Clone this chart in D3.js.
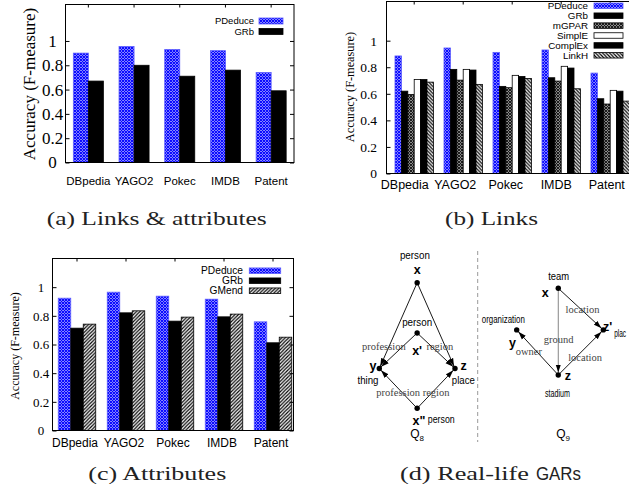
<!DOCTYPE html>
<html><head><meta charset="utf-8">
<script src="https://cdn.jsdelivr.net/npm/d3@7"></script>
<style>body{margin:0;background:#fff;overflow:hidden} svg{display:block}</style>
</head><body>
<svg id="c" width="629" height="493"></svg>
<script>
// ---------------- data ----------------
const datasets = ["DBpedia", "YAGO2", "Pokec", "IMDB", "Patent"];
const yTickValues = [0, 0.2, 0.4, 0.6, 0.8, 1];

// (a) Links & attributes
const seriesA = ["PDeduce", "GRb"];
const pdeduceA = [0.90, 0.955, 0.93, 0.92, 0.74];
const grbA     = [0.67, 0.80, 0.71, 0.76, 0.59];

// (b) Links
const seriesB = ["PDeduce", "GRb", "mGPAR", "SimplE", "ComplEx", "LinkH"];
const pdeduceB = [0.885, 0.945, 0.912, 0.93, 0.756];
const grbB     = [0.62, 0.784, 0.656, 0.721, 0.563];
const mgparB   = [0.595, 0.703, 0.646, 0.696, 0.523];
const simpleB  = [0.708, 0.784, 0.739, 0.807, 0.626];
const complexB = [0.708, 0.779, 0.731, 0.794, 0.62];
const linkhB   = [0.688, 0.671, 0.716, 0.638, 0.545];

// (c) Attributes
const seriesC = ["PDeduce", "GRb", "GMend"];
const pdeduceC = [0.923, 0.965, 0.937, 0.916, 0.758];
const grbC     = [0.714, 0.821, 0.763, 0.793, 0.612];
const gmendC   = [0.742, 0.835, 0.791, 0.812, 0.651];

// (d) Real-life GARs : graph patterns (abstract layout units)
const q8Nodes = [
  {id: "x", u: 0, v: 0}, {id: "x1", u: 0, v: 1.2}, {id: "y", u: -1, v: 2.05},
  {id: "z", u: 1, v: 2.05}, {id: "x2", u: 0, v: 3}
];
const q8Edges = [["x","y"],["x","z"],["x1","y"],["x1","z"],["x2","y"],["x2","z"]];
const q8Labels = [
  {t: "person", u: -0.06, v: -0.56, k: "type", w: 30},
  {t: "x", u: 0, v: -0.20, k: "var"},
  {t: "person", u: 0, v: 1.03, k: "type", w: 30},
  {t: "x'", u: 0, v: 1.73, k: "var"},
  {t: "profession", u: -0.88, v: 1.61, k: "edge"},
  {t: "region", u: 0.60, v: 1.61, k: "edge"},
  {t: "y", u: -1.17, v: 2.09, k: "var"},
  {t: "thing", u: -1.30, v: 2.42, k: "type", w: 21},
  {t: "z", u: 1.23, v: 2.09, k: "var"},
  {t: "place", u: 1.22, v: 2.42, k: "type", w: 23},
  {t: "profession", u: -0.50, v: 2.71, k: "edge"},
  {t: "region", u: 0.50, v: 2.71, k: "edge"},
  {t: "x\"", u: 0.05, v: 3.40, k: "var"},
  {t: "person", u: 0.28, v: 3.34, k: "type", w: 27, a: "start"}
];
const q9Nodes = [
  {id: "x", u: -0.04, v: 0}, {id: "y", u: -1, v: 0.48},
  {id: "zp", u: 1, v: 0.48}, {id: "z", u: -0.04, v: 1}
];
const q9Edges = [["x","z","g"],["x","zp"],["z","y"],["z","zp"]];
const q9Labels = [
  {t: "team", u: -0.03, v: -0.10, k: "type", w: 21},
  {t: "x", u: -0.34, v: 0.10, k: "var"},
  {t: "location", u: 0.52, v: 0.29, k: "edge"},
  {t: "z'", u: 1.10, v: 0.49, k: "var"},
  {t: "plac", u: 1.25, v: 0.56, k: "type", w: 12, a: "start"},
  {t: "organization", u: -1.31, v: 0.40, k: "type", w: 43},
  {t: "y", u: -1.10, v: 0.68, k: "var"},
  {t: "owner", u: -0.72, v: 0.77, k: "edge"},
  {t: "ground", u: -0.03, v: 0.63, k: "edge"},
  {t: "location", u: 0.58, v: 0.84, k: "edge"},
  {t: "z", u: 0.18, v: 1.06, k: "var"},
  {t: "stadium", u: -0.06, v: 1.25, k: "type", w: 25}
];

// ---------------- drawing ----------------
const svg = d3.select("#c");
const SERIF = "'Liberation Serif','Times New Roman',serif";
const SANS = "'Liberation Sans',Arial,Helvetica,sans-serif";
const defs = svg.append("defs");

function crossPattern(id, color) {
  const p = defs.append("pattern").attr("id", id).attr("patternUnits", "userSpaceOnUse")
    .attr("width", 3).attr("height", 3);
  p.append("rect").attr("width", 3).attr("height", 3).attr("fill", "#fff");
  p.append("path").attr("d", "M0,3 L3,0 M-1,1 L1,-1 M2,4 L4,2 M0,0 L3,3 M-1,2 L1,4 M2,-1 L4,1")
    .attr("stroke", color).attr("stroke-width", 1.1);
}
function hatchPattern(id, dir) {
  const p = defs.append("pattern").attr("id", id).attr("patternUnits", "userSpaceOnUse")
    .attr("width", 3.5).attr("height", 3.5);
  p.append("rect").attr("width", 3.5).attr("height", 3.5).attr("fill", "#fff");
  p.append("path").attr("d", dir > 0 ? "M0,3.5 L3.5,0 M-1,1 L1,-1 M2.5,4.5 L4.5,2.5"
                                     : "M0,0 L3.5,3.5 M-1,2.5 L1,4.5 M2.5,-1 L4.5,1")
    .attr("stroke", "#000").attr("stroke-width", 1.2);
}
crossPattern("pblue", "#0000ff");
crossPattern("pdark", "#111");
hatchPattern("hfwd", 1);
hatchPattern("hback", -1);

const styles = {
  PDeduce: {fill: "url(#pblue)", stroke: "#5a5aff"},
  GRb: {fill: "#000", stroke: "#000"},
  mGPAR: {fill: "url(#pdark)", stroke: "#000"},
  SimplE: {fill: "#fff", stroke: "#000"},
  ComplEx: {fill: "#000", stroke: "#000"},
  LinkH: {fill: "url(#hback)", stroke: "#000"},
  GMend: {fill: "url(#hfwd)", stroke: "#000"}
};

function barChart(cfg) {
  const g = svg.append("g");
  const y = d3.scaleLinear([0, cfg.yMax], [cfg.bottom, cfg.top]);
  const x0 = d3.scaleBand(datasets, cfg.xRange).paddingInner(cfg.pad).paddingOuter(cfg.pad / 2);
  const x1 = d3.scaleBand(cfg.series.map(s => s.name), [0, x0.bandwidth()]);
  const xl = d3.scaleBand(datasets, cfg.labelRange || cfg.xRange);

  // bars
  cfg.series.forEach(s => {
    g.append("g").selectAll("rect").data(s.values).join("rect")
      .attr("x", (d, i) => x0(datasets[i]) + x1(s.name))
      .attr("width", x1.bandwidth())
      .attr("y", d => y(d))
      .attr("height", d => y(0) - y(d))
      .attr("fill", styles[s.name].fill)
      .attr("stroke", styles[s.name].stroke)
      .attr("stroke-width", 0.8);
  });

  // axes ticks
  const axL = d3.axisLeft(y).tickValues(yTickValues).tickSize(-cfg.tick).tickFormat(d3.format("~g"));
  const gl = g.append("g").attr("transform", `translate(${cfg.left},0)`).call(axL);
  gl.select(".domain").remove();
  gl.selectAll("line").attr("stroke", "#000");
  gl.selectAll("text").attr("x", cfg.tickX - cfg.left).attr("text-anchor", cfg.tickAnchor)
    .attr("font-family", SERIF).attr("font-size", cfg.tickFont).attr("fill", "#000");
  const axR = d3.axisRight(y).tickValues(yTickValues).tickSize(-cfg.tick).tickFormat("");
  const gr = g.append("g").attr("transform", `translate(${cfg.right},0)`).call(axR);
  gr.select(".domain").remove();
  gr.selectAll("line").attr("stroke", "#000");
  const axT = d3.axisTop(x0).tickSize(-3).tickFormat("");
  const gt = g.append("g").attr("transform", `translate(0,${cfg.top})`).call(axT);
  gt.select(".domain").remove();
  gt.selectAll("line").attr("stroke", "#000");

  // frame
  g.append("rect").attr("x", cfg.left).attr("y", cfg.top)
    .attr("width", cfg.right - cfg.left).attr("height", cfg.bottom - cfg.top)
    .attr("fill", "none").attr("stroke", "#000").attr("stroke-width", 1);

  // x labels
  g.append("g").selectAll("text").data(datasets).join("text")
    .attr("x", d => xl(d) + xl.bandwidth() / 2 + (cfg.labelShift || 0))
    .attr("y", cfg.labelY)
    .attr("text-anchor", "middle").attr("font-family", SANS).attr("font-size", cfg.labelFont)
    .text(d => d);

  // y title
  g.append("text").attr("transform", `translate(${cfg.titleX},${cfg.titleY}) rotate(-90)`)
    .attr("text-anchor", "middle").attr("dy", "0.35em")
    .attr("font-family", SERIF).attr("font-size", cfg.titleFont)
    .text("Accuracy (F-measure)");

  // legend
  const lg = g.append("g");
  cfg.series.forEach((s, i) => {
    const cy = cfg.legY + i * cfg.legStep;
    lg.append("text").attr("x", cfg.legTextX).attr("y", cy).attr("dy", "0.35em")
      .attr("text-anchor", "end").attr("font-family", SANS).attr("font-size", cfg.legFont)
      .text(s.name);
    lg.append("rect").attr("x", cfg.legSwX).attr("y", cy - cfg.legSwH / 2)
      .attr("width", cfg.legSwW).attr("height", cfg.legSwH)
      .attr("fill", styles[s.name].fill).attr("stroke", styles[s.name].stroke).attr("stroke-width", 0.8);
  });
}

barChart({
  series: [{name: seriesA[0], values: pdeduceA}, {name: seriesA[1], values: grbA}],
  left: 65.5, right: 294, top: 4.5, bottom: 162.5, yMax: 1.3,
  xRange: [65.5, 294], pad: 0.343, tick: 4,
  tickX: 52.5, tickAnchor: "middle", tickFont: 17,
  labelY: 185, labelFont: 11.5,
  titleX: 29.5, titleY: 84, titleFont: 17,
  legY: 21, legStep: 10.5, legTextX: 254, legSwX: 259, legSwW: 24, legSwH: 6, legFont: 9.5
});

barChart({
  series: [{name: "PDeduce", values: pdeduceB}, {name: "GRb", values: grbB},
           {name: "mGPAR", values: mgparB}, {name: "SimplE", values: simpleB},
           {name: "ComplEx", values: complexB}, {name: "LinkH", values: linkhB}],
  left: 386.5, right: 640, top: 1.5, bottom: 173.5, yMax: 1.295,
  xRange: [389.7, 634.7], pad: 0.216, tick: 4,
  labelRange: [379.5, 632],
  tickX: 377, tickAnchor: "end", tickFont: 13.5,
  labelY: 188.5, labelFont: 12.5,
  titleX: 349.5, titleY: 87, titleFont: 12.3,
  legY: 5.8, legStep: 9.9, legTextX: 588, legSwX: 594, legSwW: 29, legSwH: 5.5, legFont: 9.8
});

barChart({
  series: [{name: seriesC[0], values: pdeduceC}, {name: seriesC[1], values: grbC},
           {name: seriesC[2], values: gmendC}],
  left: 52.5, right: 293.5, top: 258.5, bottom: 430.5, yMax: 1.2,
  xRange: [52.5, 297.5], pad: 0.235, tick: 4,
  labelShift: -2,
  tickX: 41, tickAnchor: "middle", tickFont: 13,
  labelY: 446.7, labelFont: 12,
  titleX: 15, titleY: 346, titleFont: 12,
  legY: 270.7, legStep: 10, legTextX: 243, legSwX: 249.3, legSwW: 31.4, legSwH: 5.5, legFont: 10.2
});

// ---------------- graphs (d) ----------------
const marker = defs.append("marker").attr("id", "arr").attr("markerUnits", "userSpaceOnUse")
  .attr("viewBox", "0 -3 8 6").attr("refX", 10.5).attr("refY", 0)
  .attr("markerWidth", 8).attr("markerHeight", 6).attr("orient", "auto");
marker.append("path").attr("d", "M0,-2.6 L8,0 L0,2.6 Z").attr("fill", "#000");

function drawGraph(nodes, edges, labels, sx, sy) {
  const g = svg.append("g");
  const byId = Object.fromEntries(nodes.map(n => [n.id, n]));
  g.selectAll("line.e").data(edges).join("line")
    .attr("x1", e => sx(byId[e[0]].u)).attr("y1", e => sy(byId[e[0]].v))
    .attr("x2", e => sx(byId[e[1]].u)).attr("y2", e => sy(byId[e[1]].v))
    .attr("stroke", e => e[2] === "g" ? "#777" : "#000").attr("stroke-width", 0.9)
    .attr("marker-end", "url(#arr)");
  g.selectAll("circle").data(nodes).join("circle")
    .attr("cx", n => sx(n.u)).attr("cy", n => sy(n.v)).attr("r", 2.7).attr("fill", "#000");
  labels.forEach(l => {
    const t = g.append("text").attr("x", sx(l.u)).attr("y", sy(l.v))
      .attr("text-anchor", l.a || "middle").text(l.t);
    if (l.k === "var") t.attr("font-family", SANS).attr("font-weight", "bold").attr("font-size", 12.5);
    else if (l.k === "type") t.attr("font-family", SANS).attr("font-size", 11.5)
      .attr("textLength", l.w).attr("lengthAdjust", "spacingAndGlyphs");
    else t.attr("font-family", SERIF).attr("font-size", 10.5).attr("fill", "#444");
  });
  return g;
}

const sx8 = d3.scaleLinear([-1, 1], [379.3, 455]);
const sy8 = d3.scaleLinear([0, 3], [282.7, 408.3]);
const g8 = drawGraph(q8Nodes, q8Edges, q8Labels, sx8, sy8);
const sx9 = d3.scaleLinear([-1, 1], [516.7, 603.3]);
const sy9 = d3.scaleLinear([0, 1], [288.3, 375]);
const g9 = drawGraph(q9Nodes, q9Edges, q9Labels, sx9, sy9);

function qLabel(g, x, y, sub) {
  const t = g.append("text").attr("x", x).attr("y", y).attr("text-anchor", "middle")
    .attr("font-family", SANS).attr("font-size", 12);
  t.append("tspan").text("Q");
  t.append("tspan").attr("font-size", 8).attr("dy", 3).text(sub);
}
qLabel(g8, sx8(0), sy8(3.72), "8");
qLabel(g9, sx9(0.07), sy9(1.73), "9");

svg.append("line").attr("x1", 477.7).attr("x2", 477.7).attr("y1", 251).attr("y2", 442)
  .attr("stroke", "#999").attr("stroke-width", 1).attr("stroke-dasharray", "4,3");

// ---------------- captions ----------------
function caption(x, y, w, txt) {
  svg.append("text").attr("x", x).attr("y", y).attr("font-family", SERIF).attr("font-size", 18.5)
    .attr("textLength", w).attr("lengthAdjust", "spacingAndGlyphs").attr("fill", "#222").text(txt);
}
caption(46.7, 225, 220, "(a) Links & attributes");
caption(445, 225, 93, "(b) Links");
caption(88.3, 480, 138, "(c) Attributes");
caption(400, 480, 129, "(d) Real-life");
svg.append("text").attr("x", 536).attr("y", 480).attr("font-family", SANS).attr("font-size", 17.5)
  .attr("textLength", 45).attr("lengthAdjust", "spacingAndGlyphs").attr("fill", "#222").text("GARs");
</script>
</body></html>
